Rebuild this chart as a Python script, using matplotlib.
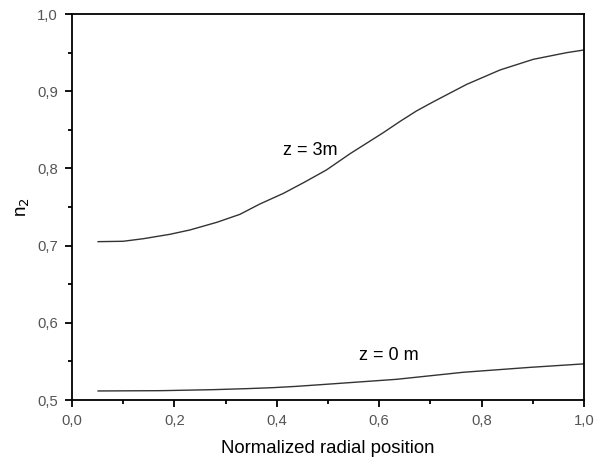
import matplotlib
matplotlib.use("Agg")
import matplotlib.pyplot as plt
from matplotlib.ticker import MultipleLocator, FuncFormatter

x_upper = [0.051, 0.100, 0.139, 0.191, 0.230, 0.283, 0.328, 0.367, 0.413, 0.455, 0.497,
           0.543, 0.608, 0.641, 0.673, 0.706, 0.771, 0.836, 0.901, 0.966, 1.000]
y_upper = [0.7051, 0.7056, 0.7089, 0.7146, 0.7202, 0.7302, 0.7405, 0.7539, 0.7677, 0.7825, 0.7980,
           0.8190, 0.8463, 0.8610, 0.8745, 0.8864, 0.9089, 0.9275, 0.9413, 0.9499, 0.9534]
x_lower = [0.051, 0.175, 0.276, 0.341, 0.393, 0.439, 0.504, 0.634, 0.764, 0.895, 1.000]
y_lower = [0.5117, 0.5121, 0.5134, 0.5147, 0.5160, 0.5177, 0.5207, 0.5268, 0.5359, 0.5423, 0.5468]

plt.rcParams['font.family'] = ['Liberation Sans', 'DejaVu Sans']
fig = plt.figure(figsize=(5.94, 4.62), dpi=100)
ax = fig.add_axes([72/594, 62/462, 512/594, 386/462])
ax.plot(x_upper, y_upper, color='#333333', lw=1.0)
ax.plot(x_lower, y_lower, color='#333333', lw=1.0)
ax.set_xlim(0, 1)
ax.set_ylim(0.5, 1.0)
ax.xaxis.set_major_locator(MultipleLocator(0.2))
ax.xaxis.set_minor_locator(MultipleLocator(0.1))
ax.yaxis.set_major_locator(MultipleLocator(0.1))
ax.yaxis.set_minor_locator(MultipleLocator(0.05))
fmt = FuncFormatter(lambda v, p: f"{v:.1f}".replace('.', ','))
ax.xaxis.set_major_formatter(fmt)
ax.yaxis.set_major_formatter(fmt)
ax.tick_params(which='both', direction='out', top=False, right=False, width=1.3,
               labelsize=10.7, labelcolor='#555555')
ax.tick_params(which='major', length=5, pad=5)
ax.tick_params(which='minor', length=3)
for s in ax.spines.values():
    s.set_linewidth(1.3)
ax.set_xlabel('Normalized radial position', fontsize=13.4, labelpad=9)
ax.set_ylabel('n$_2$', fontsize=13.5, labelpad=4)
ax.text(0.412, 0.823, 'z = 3m', fontsize=13, va='center')
ax.text(0.561, 0.557, 'z = 0 m', fontsize=13, va='center')
fig.savefig('out.png', dpi=100)
